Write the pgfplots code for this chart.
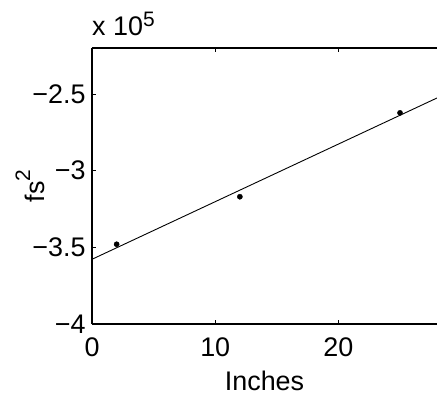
\documentclass[border=0pt]{standalone}
\usepackage{fontspec}
\setmainfont{Liberation Sans}
\usepackage{pgfplots}
\pgfplotsset{compat=1.18}

% superscript as set by the plotting tool: a little smaller, raised by #1
\newcommand\upper[2]{\raisebox{#1}{\fontsize{21}{21}\selectfont #2}}

% measured dispersion (fs^2) against insertion length (inches)
\pgfplotstableread{
x y
2 -348000
12 -317000
25 -262300
}\measured

\begin{document}
\begin{tikzpicture}
\begin{axis}[
  name=ax,
  scale only axis,
  width=345bp, height=276bp,
  xmin=0, xmax=28,
  ymin=-400000, ymax=-220000,
  axis x line*=box, axis y line*=left,
  xtick={0,10,20},
  ytick={-400000,-350000,-300000,-250000},
  yticklabels={−4,−3.5,−3,−2.5},
  scaled y ticks=false,
  tick align=inside,
  major tick length=4bp,
  tick style={line width=0.6bp, black},
  axis line style={line width=1.3bp, black},
  /pgf/number format/assume math mode=true,
  ticklabel style={font=\fontsize{27}{29}\selectfont},
  xticklabel style={yshift=-10bp},
  yticklabel style={xshift=-3bp},
  label style={font=\fontsize{27}{29}\selectfont},
  xlabel={Inches},
  xlabel style={at={(axis description cs:0.5,0)}, anchor=center, yshift=-57bp},
  ylabel={fs\upper{14bp}{2}},
  ylabel style={at={(axis description cs:0,0.5)}, anchor=center, yshift=62bp},
  clip mode=individual,
]
  % least-squares line through the measurements
  \addplot[black, line width=0.9bp] coordinates {(0,-357800) (28,-252600)};
  \addplot[only marks, mark=*, mark size=2.6bp, black] table[x=x, y=y] {\measured};
\end{axis}
\node[anchor=base west, inner sep=0pt, font=\fontsize{27}{29}\selectfont]
  at ([yshift=12bp]ax.north west) {x 10\upper{9bp}{5}};
\pgfresetboundingbox
\path[use as bounding box] ([xshift=-92bp,yshift=-73bp]ax.south west) rectangle ([yshift=48bp]ax.north east);
\end{tikzpicture}
\end{document}
